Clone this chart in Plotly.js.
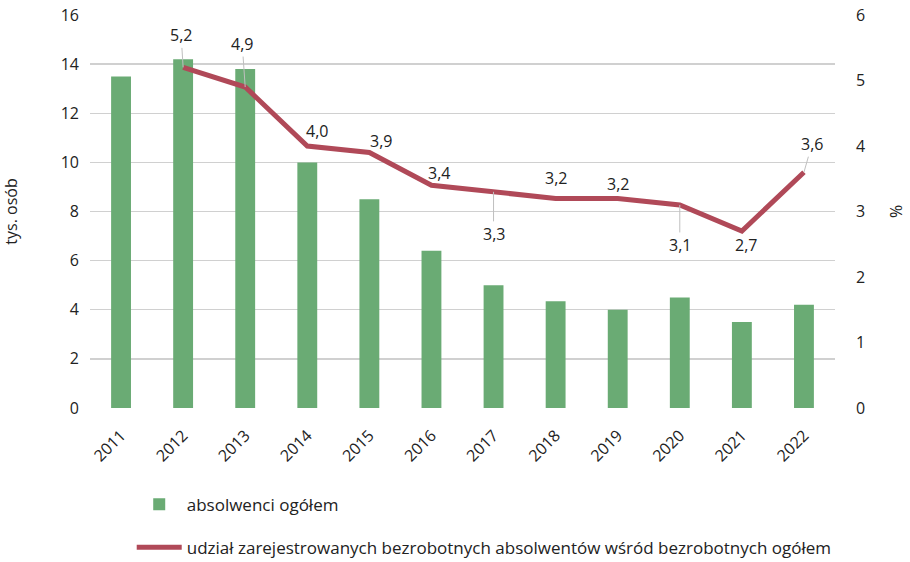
<!DOCTYPE html>
<html><head><meta charset="utf-8">
<script src="https://cdn.plot.ly/plotly-3.0.1.min.js"></script>
<style>body{margin:0;background:#fff}#c{width:910px;height:562px}</style>
</head><body><div id="c"></div>
<script>
const years = ['2011','2012','2013','2014','2015','2016','2017','2018','2019','2020','2021','2022'];
const graduates = [13.5,14.2,13.8,10.0,8.5,6.4,5.0,4.35,4.0,4.5,3.5,4.2];
const share = [null,5.2,4.9,4.0,3.9,3.4,3.3,3.2,3.2,3.1,2.7,3.6];
const shareLabels = [null,'5,2','4,9','4,0','3,9','3,4','3,3','3,2','3,2','3,1','2,7','3,6'];
const nameBars = 'absolwenci ogółem';
const nameLine = 'udział zarejestrowanych bezrobotnych absolwentów wśród bezrobotnych ogółem';

// label offsets (px) and whether a leader line is shown
const labelOff = [null,[-2,-32,true],[-3,-43,true],[10,-15,false],[12,-12,false],[8,-12,false],[0,-42,true],[0,-20,false],[0,-14,false],[0,-40,true],[4,-14,false],[8,-28,true]];
const belowIdx = {6:1,9:1,10:1};

const font = 'Open Sans, Noto Sans, sans-serif';
const annotations = [];
share.forEach((v,i)=>{
  if(v===null) return;
  const o = labelOff[i];
  let ay = o[1];
  if(belowIdx[i]) ay = -ay;
  annotations.push({
    x: i, y: v, xref:'x', yref:'y2', text: shareLabels[i],
    showarrow: true, arrowhead: 0, arrowwidth: 1,
    arrowcolor: o[2] ? '#bfbfbf' : 'rgba(0,0,0,0)',
    ax: o[0], ay: ay, standoff: 0,
    font: {family: font, size: 16, color: '#222'}
  });
});

const data = [
  {type:'bar', x: years, y: graduates, name: nameBars, legendgroup:'a', marker:{color:'#6aab74'}, width:0.32, yaxis:'y'},
  {type:'scatter', mode:'lines', x: years, y: share, name: nameLine, legendgroup:'b', line:{color:'#b04958', width:5}, yaxis:'y2'}
];

const layout = {
  width: 910, height: 562,
  margin: {l:90, r:75, t:15, b:154, autoexpand:false},
  paper_bgcolor:'#fff', plot_bgcolor:'#fff',
  font: {family: font, size: 15, color:'#222'},
  showlegend: true,
  legend: {orientation:'v', x:0.056, xanchor:'left', y:-0.2, yanchor:'top', font:{size:17, color:'#222'}, itemwidth:45, tracegroupgap:18, traceorder:'grouped', bgcolor:'rgba(0,0,0,0)'},
  xaxis: {type:'category', range:[-0.5,11.5], tickangle:-45, showgrid:false, zeroline:false, showline:false, ticks:'', tickfont:{size:16}, ticklabelstandoff:14, automargin:false},
  yaxis: {range:[0,16], dtick:2, showgrid:true, gridcolor:'#d0d0d0', gridwidth:1.3, zeroline:false, ticks:'', ticklabelstandoff:10, tickfont:{size:16}, automargin:false,
          title:{text:'tys. osób', font:{size:16}, standoff:40}},
  yaxis2: {range:[0,6], dtick:1, overlaying:'y', side:'right', showgrid:false, zeroline:false, ticks:'', ticklabelstandoff:20, tickfont:{size:16}, automargin:false,
          title:{text:'%', font:{size:16}, standoff:26}},
  annotations: annotations
};
Plotly.newPlot('c', data, layout, {displayModeBar:false, staticPlot:true});
</script></body></html>
